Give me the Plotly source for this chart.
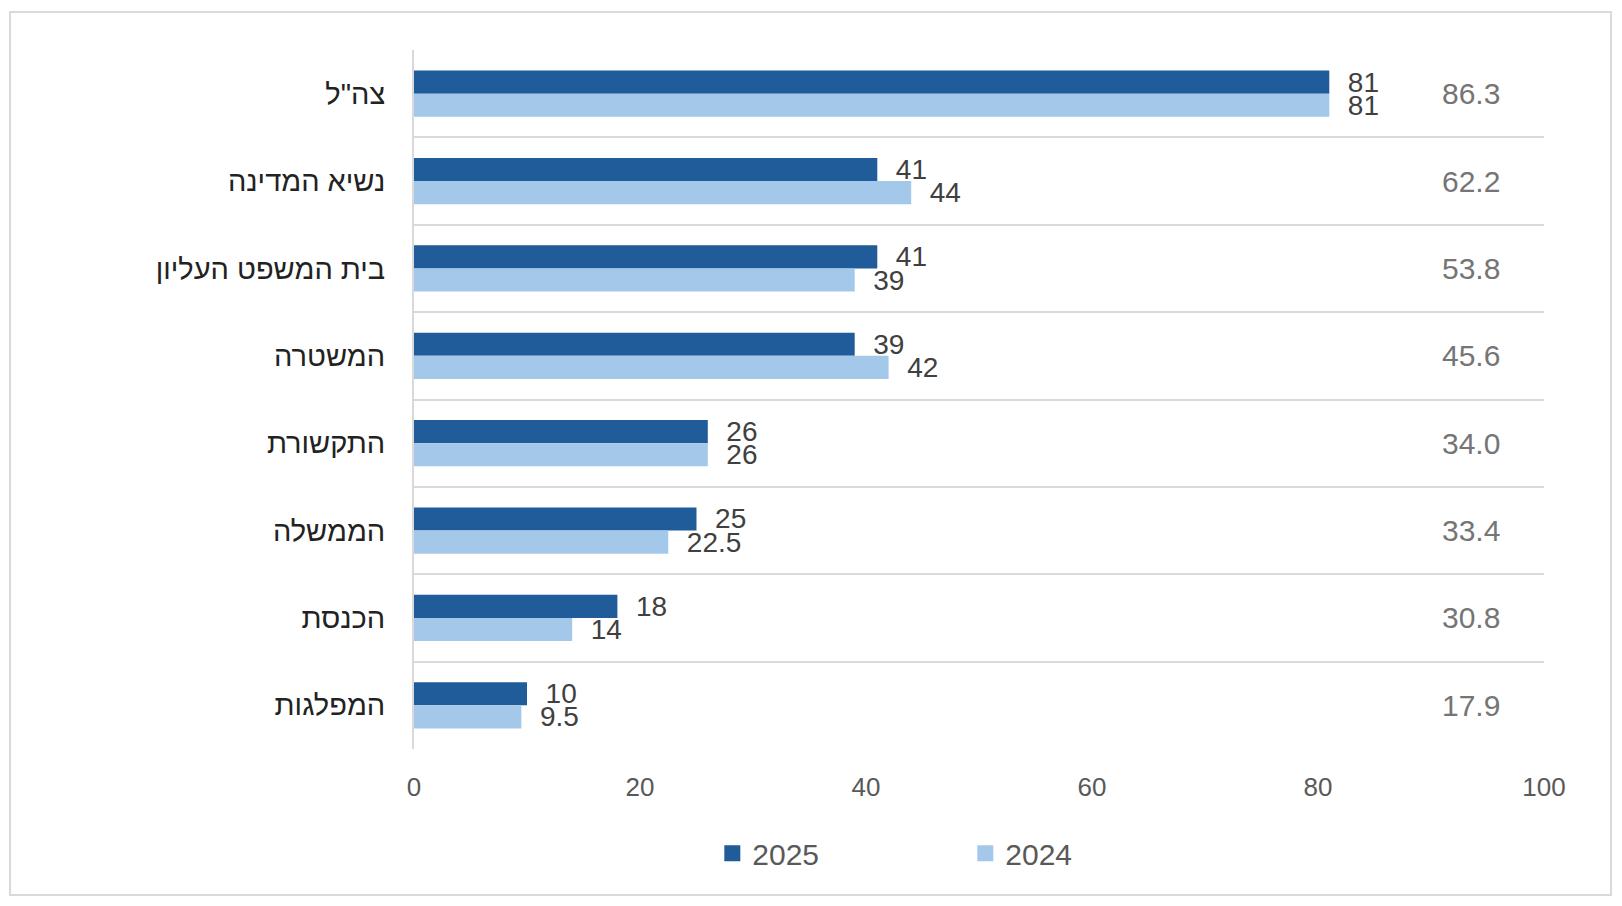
import plotly.graph_objects as go

categories = ["צה\"ל", "נשיא המדינה", "בית המשפט העליון", "המשטרה",
              "התקשורת", "הממשלה", "הכנסת", "המפלגות"]
values_2025 = [81, 41, 41, 39, 26, 25, 18, 10]
values_2024 = [81, 44, 39, 42, 26, 22.5, 14, 9.5]
right_values = [86.3, 62.2, 53.8, 45.6, 34.0, 33.4, 30.8, 17.9]
x_ticks = [0, 20, 40, 60, 80, 100]

FONT = "Liberation Sans, Arial, sans-serif"
NB = "\u00a0\u00a0"
C25 = "#1F5C99"
C24 = "#A4C8EA"

fig = go.Figure()
fig.add_trace(go.Bar(
    y=categories, x=values_2025, orientation="h", name="2025", showlegend=False,
    marker=dict(color=C25, line=dict(width=0)),
    text=[NB + f"{v:g}" for v in values_2025], textposition="outside",
    textfont=dict(size=28, color="#404040", family=FONT),
    constraintext="none", cliponaxis=False, hoverinfo="x+y",
))
fig.add_trace(go.Bar(
    y=categories, x=values_2024, orientation="h", name="2024", showlegend=False,
    marker=dict(color=C24, line=dict(width=0)),
    text=[NB + f"{v:g}" for v in values_2024], textposition="outside",
    textfont=dict(size=28, color="#404040", family=FONT),
    constraintext="none", cliponaxis=False, hoverinfo="x+y",
))
# legend entries with larger square swatches
for name, col in [("2025", C25), ("2024", C24)]:
    fig.add_trace(go.Scatter(x=[None], y=[None], mode="markers", name=name,
                             marker=dict(symbol="square", size=17, color=col),
                             showlegend=True, hoverinfo="skip"))

for cat, rv in zip(categories, right_values):
    fig.add_annotation(x=93.5, y=cat, xref="x", yref="y", text=f"{rv:.1f}",
                       showarrow=False, xanchor="center", yanchor="middle",
                       font=dict(size=30, color="#757575", family=FONT))

# outer border
fig.add_shape(type="rect", xref="paper", yref="paper",
              x0=-0.3575, x1=1.0593, y0=-0.2089, y1=1.0544,
              line=dict(color="#d9d9d9", width=2), fillcolor="rgba(0,0,0,0)", layer="below")

fig.update_layout(
    width=1614, height=898,
    margin=dict(l=406, r=78, t=42, b=157),
    paper_bgcolor="white", plot_bgcolor="white",
    barmode="group", bargap=0.47, bargroupgap=0,
    font=dict(family=FONT),
    xaxis=dict(range=[0, 100], tickvals=x_ticks, showgrid=False, zeroline=False,
               showline=False, ticks="", ticklabelstandoff=20,
               tickfont=dict(size=26, color="#595959"), fixedrange=True),
    yaxis=dict(autorange="reversed", tickson="boundaries", showgrid=True,
               gridcolor="#d9d9d9", gridwidth=2, showline=True, linecolor="#d9d9d9",
               linewidth=2, ticks="", ticklabelstandoff=21,
               tickfont=dict(size=29, color="#222222")),
    showlegend=True,
    legend=dict(orientation="h", x=0.264, y=-0.149, xanchor="left", yanchor="middle",
                font=dict(size=30, color="#595959"), entrywidth=208,
                entrywidthmode="pixels", traceorder="normal"),
)

fig.write_html("out.html")
